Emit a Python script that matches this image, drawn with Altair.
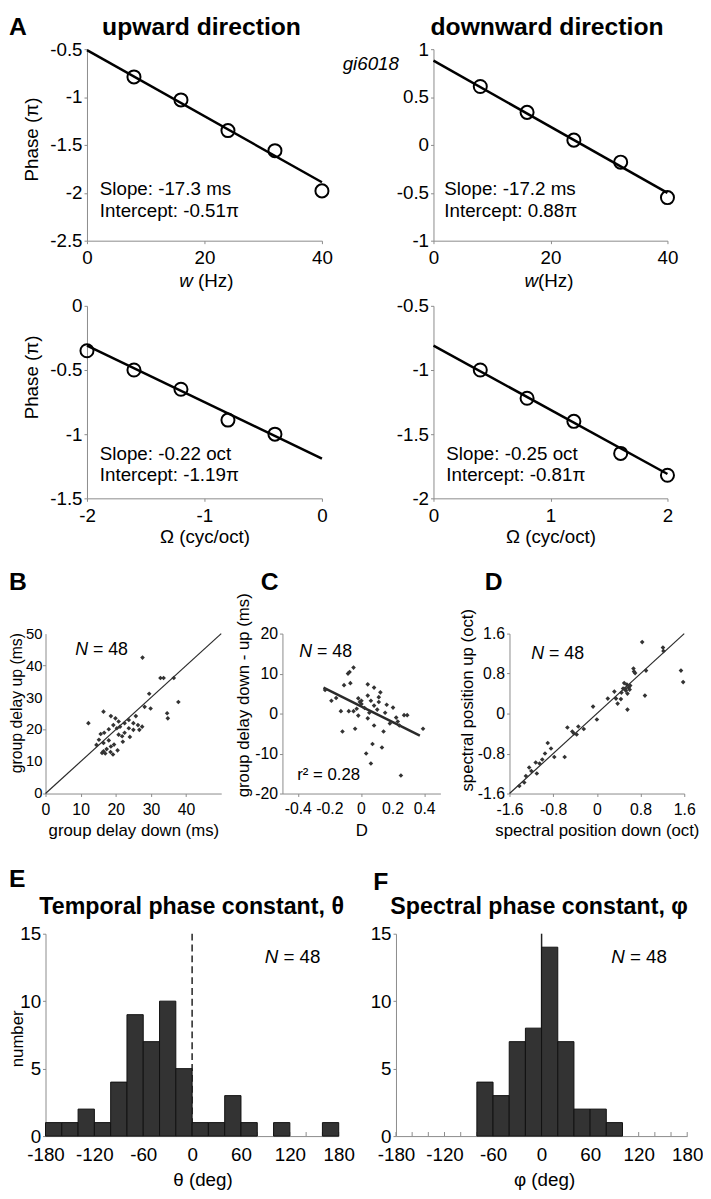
import altair as alt
import pandas as pd

FONT = "Liberation Sans"
GRAY = "#8a8a8a"
LBL = "datum.value + ''"

# ---------------- data ----------------
# A: phase vs temporal rate (upward / downward)
up_rate_hz = [8, 16, 24, 32, 40]
up_rate_phase = [-0.79, -1.03, -1.35, -1.56, -1.98]
up_rate_fit_x = [0, 40]
up_rate_fit_y = [-0.51, -1.89]

down_rate_hz = [8, 16, 24, 32, 40]
down_rate_phase = [0.61, 0.34, 0.05, -0.18, -0.55]
down_rate_fit_x = [0, 40]
down_rate_fit_y = [0.88, -0.50]

# A: phase vs spectral scale
up_scale = [-2.0, -1.6, -1.2, -0.8, -0.4]
up_scale_phase = [-0.35, -0.50, -0.65, -0.89, -1.00]
up_scale_fit_x = [-2.0, 0.0]
up_scale_fit_y = [-0.31, -1.19]

down_scale = [0.4, 0.8, 1.2, 1.6, 2.0]
down_scale_phase = [-1.00, -1.22, -1.40, -1.65, -1.82]
down_scale_fit_x = [0.0, 2.0]
down_scale_fit_y = [-0.81, -1.81]

# B: group delay down vs up (ms)
b_delay_down = [27.6, 12.2, 16.5, 32.7, 33.6, 36.5, 29.5, 28.2, 29.9, 37.8, 34.6, 34.8,
                25.7, 18.6, 19.9, 20.8, 22.5, 23.7, 25.0, 26.3, 19.3, 20.3, 21.2, 18.0,
                16.7, 15.7, 23.7, 25.0, 27.5, 22.5, 20.8, 21.8, 15.2, 16.5, 18.0, 18.6,
                19.5, 26.7, 17.4, 16.5, 16.1, 18.5, 19.2, 20.5, 14.5, 22.0, 17.0, 24.0]
b_delay_up = [42.5, 22.0, 25.6, 36.1, 36.1, 36.1, 31.2, 27.1, 26.6, 28.6, 25.1, 23.5,
              24.2, 24.2, 23.5, 22.5, 22.0, 23.0, 22.0, 21.4, 21.4, 20.4, 20.9, 20.1,
              19.0, 18.6, 20.4, 19.9, 20.9, 19.0, 18.4, 17.9, 16.8, 15.8, 16.6, 14.7,
              15.3, 19.9, 13.9, 13.2, 12.7, 13.0, 12.2, 13.5, 15.2, 16.2, 12.5, 17.7]
b_unity_x = [0, 50]
b_unity_y = [0, 50]
b_xticks = [0, 10, 20, 30, 40]
b_yticks = [0, 10, 20, 30, 40, 50]

# C: direction index D vs group delay difference (ms)
c_dir_index = [-0.05, -0.085, -0.075, -0.11, -0.07, -0.23, -0.19, 0.04, 0.08, 0.12, 0.04, -0.02,
               0.00, -0.01, 0.06, 0.11, 0.11, 0.16, 0.08, 0.02, -0.13, -0.08, -0.05, 0.15,
               0.27, 0.29, 0.22, 0.04, -0.04, -0.12, 0.08, 0.23, 0.24, 0.39, 0.07, 0.13,
               0.03, 0.06, 0.25, -0.03, 0.00, 0.10, -0.02, 0.18, -0.16, 0.05, 0.14, 0.20]
c_delay_diff = [11.5, 10.0, 10.4, 7.1, 7.6, 5.9, 3.2, 7.3, 6.5, 5.3, 4.5, 3.8,
                3.2, 2.9, 3.2, 4.1, 2.9, 2.2, 2.0, 1.4, 0.6, 0.6, 0.6, 0.2,
                -0.4, -0.4, -1.0, -1.2, -3.8, -4.5, -3.0, -2.0, -3.0, -3.8, -7.6, -8.5,
                -10.0, -12.5, -15.5, 1.2, 2.4, 1.0, -0.5, -2.5, 3.9, 0.2, -4.5, 1.5]
c_fit_x = [-0.24, 0.37]
c_fit_y = [6.5, -5.5]
c_xticks = [-0.4, -0.2, 0, 0.2, 0.4]
c_yticks = [-20, -10, 0, 10, 20]

# D: spectral position down vs up (oct)
d_pos_down = [0.83, 1.21, 1.22, 1.54, 1.58, 0.67, 0.68, 0.70, 0.90, 0.88,
              0.50, 0.55, 0.58, 0.48, 0.53, 0.60, 0.45, 0.56, 0.61,
              0.56, 0.44, 0.32, 0.20, 0.38, -0.07, 0.00, -0.24, -0.34, -0.45, -0.42,
              -0.37, -0.54, -0.84, -0.90, -0.59, -0.78,
              -0.95, -1.05, -1.12, -1.20, -1.24, -1.10, -1.30, -1.33, -1.00, -1.42, 0.35, 0.52]
d_pos_up = [1.43, 1.32, 1.25, 0.86, 0.63, 0.90, 0.84, 0.81, 0.86, 0.36,
            0.61, 0.58, 0.52, 0.50, 0.46, 0.48, 0.42, 0.40, 0.56,
            0.08, 0.29, 0.44, 0.30, 0.20, 0.14, -0.12, -0.31, -0.26, -0.36, -0.40,
            -0.42, -0.28, -0.70, -0.59, -0.87, -0.87,
            -0.80, -1.00, -0.98, -1.15, -1.08, -1.20, -1.25, -1.38, -0.92, -1.45, 0.30, 0.50]
d_unity_x = [-1.6, 1.6]
d_unity_y = [-1.6, 1.6]
d_ticks = [-1.6, -0.8, 0, 0.8, 1.6]

# E, F: histograms (20-deg bins)
bin_starts = [-180, -160, -140, -120, -100, -80, -60, -40, -20, 0, 20, 40, 60, 80, 100, 120, 140, 160]
bin_ends = [-160, -140, -120, -100, -80, -60, -40, -20, 0, 20, 40, 60, 80, 100, 120, 140, 160, 180]
theta_counts = [1, 1, 2, 1, 4, 9, 7, 10, 5, 1, 1, 3, 1, 0, 1, 0, 0, 1]
phi_counts = [0, 0, 0, 0, 0, 4, 3, 7, 8, 14, 7, 2, 2, 1, 0, 0, 0, 0]
hist_label_ticks = [-180, -120, -60, 0, 60, 120, 180]
hist_minor_ticks = [-180, -160, -140, -120, -100, -80, -60, -40, -20, 0, 20, 40, 60, 80, 100,
                    120, 140, 160, 180]

ONE = pd.DataFrame({"k": [0]})


# ---------------- helpers ----------------
def text(t, x, y, size=19, weight="normal", style="normal", align="left", baseline="middle"):
    return alt.Chart(ONE).mark_text(
        text=t, font=FONT, fontSize=size, fontWeight=weight, fontStyle=style,
        align=align, baseline=baseline, color="black"
    ).encode(x=alt.value(x), y=alt.value(y))


def n48(x, y, size):
    return [text("N", x, y, size, style="italic"), text("= 48", x + size * 1.0, y, size)]


def ax(values, size, pad, title=None, tfs=19, tx=None, ty=None, angle=None, tick=3, labels=True):
    kw = dict(values=values, labelExpr=LBL, labelFontSize=size, labelPadding=pad,
              tickSize=tick, grid=False, labelFont=FONT, labelColor="black",
              domainColor=GRAY, tickColor=GRAY, labelOverlap=False, labelFlush=False,
              labels=labels)
    if title is None:
        kw["title"] = None
    else:
        kw.update(title=title, titleFontSize=tfs, titleBaseline="middle", titleAlign="center",
                  titleFont=FONT, titleFontWeight="normal", titleColor="black")
        if tx is not None:
            kw["titleX"] = tx
        if ty is not None:
            kw["titleY"] = ty
        if angle is not None:
            kw["titleAngle"] = angle
    return alt.Axis(**kw)


def tick_labels_x(vals, scale, y, size):
    df = pd.DataFrame({"v": vals, "lab": [str(v) for v in vals]})
    return alt.Chart(df).mark_text(
        font=FONT, fontSize=size, align="center", baseline="top", color="black"
    ).encode(x=alt.X("v:Q", scale=scale), y=alt.value(y), text="lab:N")


def tick_labels_y(vals, scale, x, size):
    df = pd.DataFrame({"v": vals, "lab": [str(v) for v in vals]})
    return alt.Chart(df).mark_text(
        font=FONT, fontSize=size, align="right", baseline="middle", color="black"
    ).encode(y=alt.Y("v:Q", scale=scale), x=alt.value(x), text="lab:N")


def spacer(w, h):
    return alt.Chart(ONE).mark_point(opacity=0).encode(
        x=alt.X("k:Q", axis=None), y=alt.Y("k:Q", axis=None)
    ).properties(width=w, height=h)


def phase_panel(px, py, fx, fy, xdom, ydom, w, h, xaxis, yaxis, extras):
    xs = alt.Scale(domain=xdom, nice=False, zero=False)
    ys = alt.Scale(domain=ydom, nice=False, zero=False)
    fit = alt.Chart(pd.DataFrame({"x": fx, "y": fy})).mark_line(
        color="black", strokeWidth=2.5
    ).encode(x=alt.X("x:Q", scale=xs, axis=xaxis), y=alt.Y("y:Q", scale=ys, axis=yaxis))
    pts = alt.Chart(pd.DataFrame({"x": px, "y": py})).mark_point(
        shape="circle", filled=False, size=175, color="black", strokeWidth=2, opacity=1
    ).encode(x=alt.X("x:Q", scale=xs), y=alt.Y("y:Q", scale=ys))
    return alt.layer(fit, pts, *extras).properties(width=w, height=h)


def scatter_panel(px, py, lx, ly, lw, xs, ys, w, h, xaxis, yaxis, extras):
    line = alt.Chart(pd.DataFrame({"x": lx, "y": ly})).mark_line(
        color="#2a2a2a", strokeWidth=lw
    ).encode(x=alt.X("x:Q", scale=xs, axis=xaxis), y=alt.Y("y:Q", scale=ys, axis=yaxis))
    pts = alt.Chart(pd.DataFrame({"x": px, "y": py})).mark_point(
        shape="diamond", filled=True, size=22, color="#333333", opacity=1
    ).encode(x=alt.X("x:Q", scale=xs), y=alt.Y("y:Q", scale=ys))
    return alt.layer(line, pts, *extras).properties(width=w, height=h)


def hist_panel(counts, w, h, xaxis, yaxis, dashed, extras):
    df = pd.DataFrame({"s": bin_starts, "e": bin_ends, "n": counts})
    xs = alt.Scale(domain=[-180, 180], nice=False, zero=False)
    ys = alt.Scale(domain=[0, 15], nice=False)
    minor = alt.Chart(pd.DataFrame({"t": hist_minor_ticks})).mark_rule(
        color=GRAY, strokeWidth=1
    ).encode(x=alt.X("t:Q", scale=xs, axis=xaxis), y=alt.datum(0), y2=alt.datum(0.3))
    rule_kw = dict(color="#222222", strokeWidth=1.5)
    if dashed:
        rule_kw["strokeDash"] = [7, 4]
    rule = alt.Chart(ONE).mark_rule(**rule_kw).encode(
        x=alt.datum(0), y=alt.Y(datum=0, scale=ys, axis=yaxis), y2=alt.datum(15))
    bars = alt.Chart(df).transform_filter("datum.n > 0").mark_rect(
        color="#333333", stroke="#111111", strokeWidth=1, opacity=1
    ).encode(
        x=alt.X("s:Q", scale=xs), x2="e:Q",
        y=alt.Y("n:Q", scale=ys), y2=alt.datum(0)
    )
    return alt.layer(minor, rule, bars, *extras).properties(width=w, height=h)


# ---------------- panel A ----------------
A1 = phase_panel(
    up_rate_hz, up_rate_phase, up_rate_fit_x, up_rate_fit_y, [0, 40], [-2.5, -0.5], 238, 194,
    ax([0, 20, 40], 19, 5),
    ax([-2.5, -2, -1.5, -1, -0.5], 19, 2, "Phase (π)", 19, -56, 91, 270),
    [text("A", -79, -22, 25, "bold"),
     text("upward direction", 116, -22, 25, "bold", align="center"),
     text("Slope: -17.3 ms", 13, 142), text("Intercept: -0.51π", 13, 164),
     text("w", 93.5, 235, style="italic"), text("(Hz)", 112.5, 235)])

A2 = phase_panel(
    down_rate_hz, down_rate_phase, down_rate_fit_x, down_rate_fit_y, [0, 40], [-1, 1], 237, 194,
    ax([0, 20, 40], 19, 5),
    ax([-1, -0.5, 0, 0.5, 1], 19, 2),
    [text("downward direction", 115, -22, 25, "bold", align="center"),
     text("gi6018", -35, 15, 19, style="italic", align="right"),
     text("Slope: -17.2 ms", 11, 142), text("Intercept: 0.88π", 11, 164),
     text("w", 92.2, 235, style="italic"), text("(Hz)", 105.9, 235)])

A3 = phase_panel(
    up_scale, up_scale_phase, up_scale_fit_x, up_scale_fit_y, [-2, 0], [-1.5, 0], 238, 195,
    ax([-2, -1, 0], 19, 5, "Ω (cyc/oct)", 19, None, 39),
    ax([-1.5, -1, -0.5, 0], 19, 2, "Phase (π)", 19, -56, 72, 270),
    [text("Slope: -0.22 oct", 13, 150), text("Intercept: -1.19π", 13, 171)])

A4 = phase_panel(
    down_scale, down_scale_phase, down_scale_fit_x, down_scale_fit_y, [0, 2], [-2, -0.5], 237, 195,
    ax([0, 1, 2], 19, 5, "Ω (cyc/oct)", 19, None, 39),
    ax([-2, -1.5, -1, -0.5], 19, 2),
    [text("Slope: -0.25 oct", 13, 150), text("Intercept: -0.81π", 13, 171)])

# ---------------- panels B, C, D ----------------
bxs = alt.Scale(domain=[0, 50], nice=False, zero=False)
bys = alt.Scale(domain=[0, 50], nice=False, zero=False)
B = scatter_panel(
    b_delay_down, b_delay_up, b_unity_x, b_unity_y, 1.2, bxs, bys, 178, 162,
    ax(b_xticks, 16, 5, "group delay down (ms)", 17, None, 38),
    ax(b_yticks, 16, 2, "group delay up (ms)", 16, -29, 70, 270, labels=False),
    [tick_labels_y(b_yticks, bys, -3, 15), text("B", -37, -52, 25, "bold")] + n48(30, 17, 18))

cxs = alt.Scale(domain=[-0.5, 0.5], nice=False, zero=False)
cys = alt.Scale(domain=[-20, 20], nice=False, zero=False)
C = scatter_panel(
    c_dir_index, c_delay_diff, c_fit_x, c_fit_y, 2.5, cxs, cys, 160, 162,
    ax(c_xticks, 16, 5, "D", 17, None, 38, labels=False),
    ax(c_yticks, 16, 2, "group delay down - up (ms)", 17, -39, 62, 270),
    [tick_labels_x(c_xticks, cxs, 170, 16),
     text("C", -22, -52, 25, "bold"), text("r² = 0.28", 15, 143, 17)] + n48(17, 19, 18))

dxs = alt.Scale(domain=[-1.6, 1.6], nice=False, zero=False)
dys = alt.Scale(domain=[-1.6, 1.6], nice=False, zero=False)
D = scatter_panel(
    d_pos_down, d_pos_up, d_unity_x, d_unity_y, 1.2, dxs, dys, 177, 162,
    ax(d_ticks, 16, 5, "spectral position down (oct)", 17, None, 38),
    ax(d_ticks, 16, 2, "spectral position up (oct)", 17, -42, 67, 270),
    [text("D", -25, -52, 25, "bold")] + n48(22, 21, 18))

# ---------------- panels E, F ----------------
E = hist_panel(
    theta_counts, 297, 205,
    ax(hist_label_ticks, 19, 10, "θ (deg)", 19, 159, 44, tick=0),
    ax([0, 5, 10, 15], 19, 2, "number", 17, -28, 106, 270),
    True,
    [text("E", -37, -55, 25, "bold"),
     text("Temporal phase constant, θ", 148, -27, 23.5, "bold", align="center")] + n48(222, 24, 19))

F = hist_panel(
    phi_counts, 295, 205,
    ax(hist_label_ticks, 19, 10, "φ (deg)", 19, 150, 44, tick=0),
    ax([0, 5, 10, 15], 19, 2),
    False,
    [text("F", -23, -52, 25, "bold"),
     text("Spectral phase constant, φ", 145, -27, 23.5, "bold", align="center")] + n48(218, 24, 19))

# ---------------- layout ----------------
row1 = alt.hconcat(spacer(42, 1), A1, spacer(113, 1), A2, spacing=0, bounds="flush")
row2 = alt.hconcat(spacer(42, 1), A3, spacer(113, 1), A4, spacing=0, bounds="flush")
row3 = alt.hconcat(B, spacer(62, 1), C, spacer(70, 1), D, spacing=0, bounds="flush")
row4 = alt.hconcat(E, spacer(58, 1), F, spacing=0, bounds="flush")

chart = alt.vconcat(
    row1, spacer(1, 260), row2, spacer(1, 332), row3, spacer(1, 304), row4,
    spacing=0, bounds="flush"
).properties(
    padding=0
).configure(font=FONT).configure_view(strokeWidth=0).configure_axis(
    grid=False, domainColor=GRAY, tickColor=GRAY, domainWidth=1, tickWidth=1,
    labelColor="black", titleColor="black", labelFont=FONT, titleFont=FONT,
    titleFontWeight="normal", labelFlush=False, labelOverlap=False
)

chart.save("out.html", embed_options={"renderer": "svg", "actions": False})
